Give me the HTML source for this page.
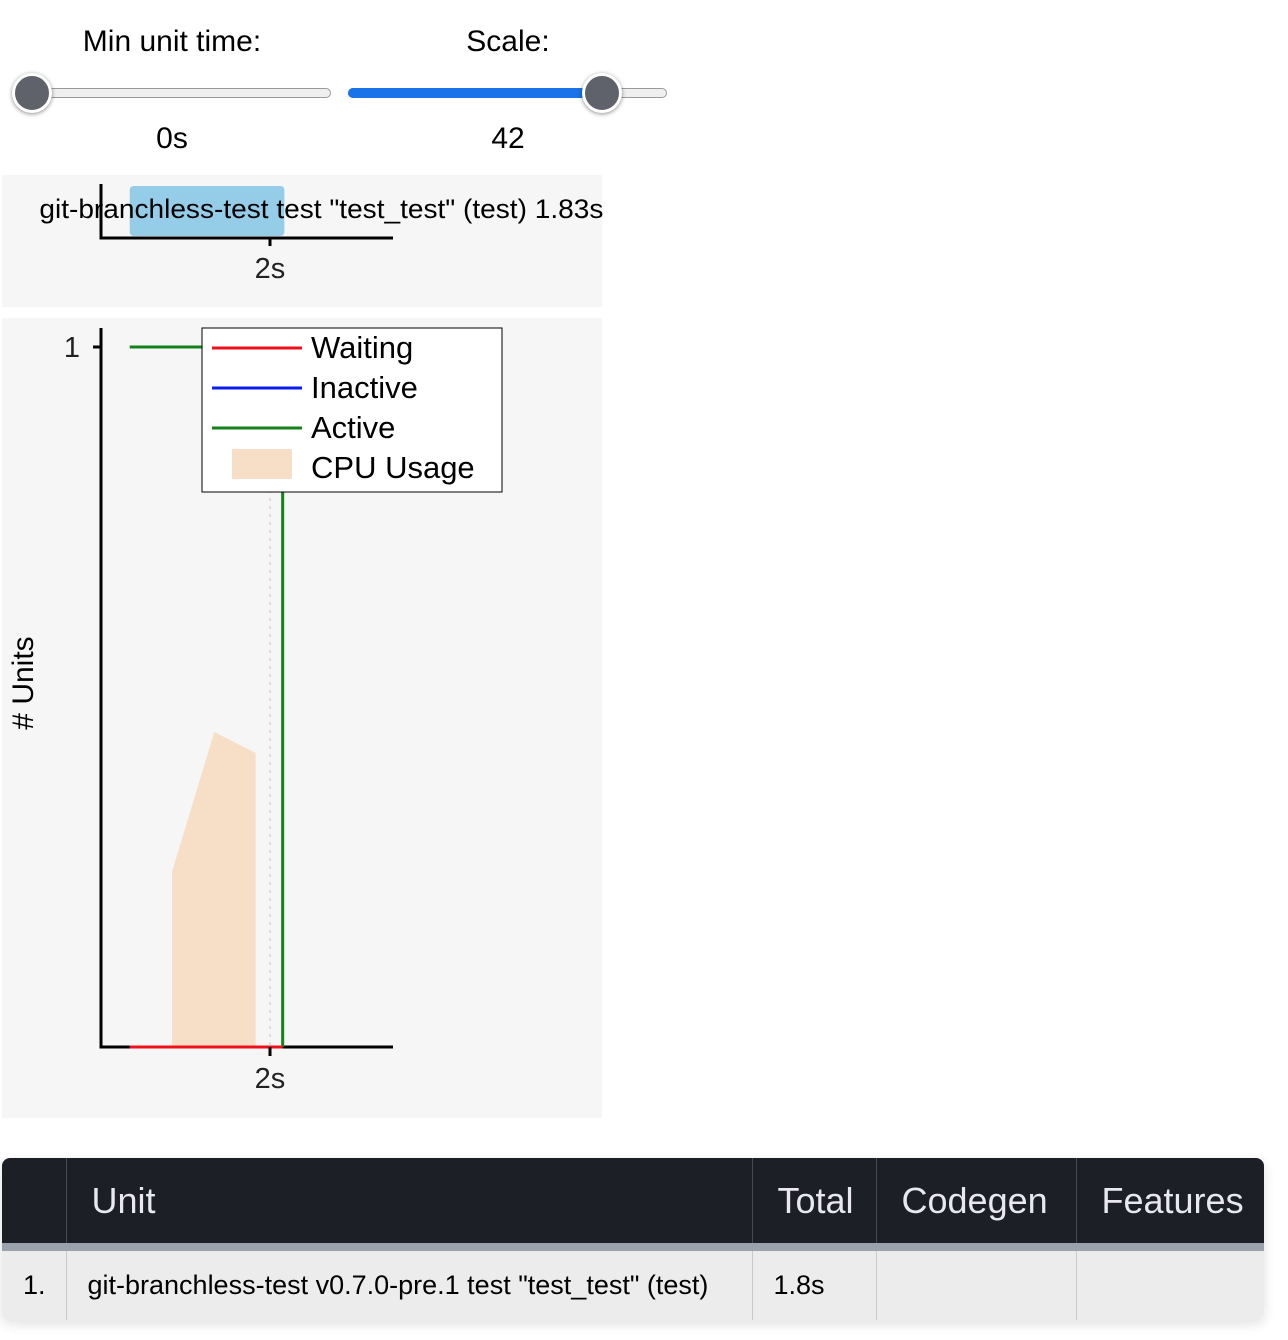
<!DOCTYPE html>
<html><head><meta charset="utf-8"><style>
body{margin:0;width:1288px;height:1340px;background:#fff;font-family:"Liberation Sans",Arial,sans-serif;position:relative;overflow:hidden}
.abs{position:absolute}
.lbl{font-size:30px;color:#000;text-align:center;width:300px}
.track{height:8px;border:1px solid #9a9a9a;border-radius:5px;background:#efefef}
.thumb{width:34px;height:34px;border-radius:50%;background:#5f616b;border:3px solid #fff;box-shadow:0 1px 4px rgba(0,0,0,.45)}
table{border-collapse:collapse;table-layout:fixed;position:absolute;left:2px;top:1158px;width:1262px;border-radius:8px;overflow:hidden;box-shadow:0 4px 12px rgba(0,0,0,.12)}
th{background:#1d1f27;color:#e8e8ee;font-weight:normal;font-size:36px;height:85px;text-align:left;padding:0 0 0 25px;border-left:1px solid #444a58;border-bottom:8px solid #9aa2ae;white-space:nowrap}
td{background:#ececec;font-size:27px;height:69px;padding:0 0 0 21px;border-left:1px solid #c8c8d0;white-space:nowrap}
th:first-child,td:first-child{border-left:none}
</style></head><body>
<div class="abs lbl" style="left:22px;top:25px">Min unit time:</div>
<div class="abs lbl" style="left:358px;top:25px">Scale:</div>
<div class="abs track" style="left:32px;top:88px;width:297px"></div>
<div class="abs thumb" style="left:12px;top:73px"></div>
<div class="abs track" style="left:348px;top:88px;width:317px"></div>
<div class="abs" style="left:348px;top:88px;width:254px;height:10px;background:#1a73e8;border-radius:5px"></div>
<div class="abs thumb" style="left:582px;top:73px"></div>
<div class="abs lbl" style="left:22px;top:122px">0s</div>
<div class="abs lbl" style="left:358px;top:122px">42</div>

<svg class="abs" style="left:0;top:0" width="1288" height="1140">
<rect x="2" y="175" width="600" height="132" fill="#f6f6f6"/>
<rect x="2" y="318" width="600" height="800" fill="#f6f6f6"/>
<g id="pipe"></g>
<g id="conc"></g>
</svg>
<table>
<colgroup><col style="width:64px"><col style="width:686px"><col style="width:124px"><col style="width:200px"><col style="width:188px"></colgroup>
<tr><th></th><th>Unit</th><th>Total</th><th>Codegen</th><th>Features</th></tr>
<tr><td>1.</td><td>git-branchless-test v0.7.0-pre.1 test "test_test" (test)</td><td>1.8s</td><td></td><td></td></tr>
</table>
<script>
const units=['git-branchless-test test "test_test" (test)'];
const unitStart=[0.34];
const unitDur=[1.83];
const xTicks=[2];
const activeT=[0.34,2.15];
const activeV=[1,0];
const waitingT=[0.34,2.15];
const waitingV=[0,0];
const cpuT=[0.84,1.34,1.83];
const cpuV=[25,45,42];
const NS='http://www.w3.org/2000/svg';
const X=t=>101+t*84.5;
function mk(p,tag,a,txt){const e=document.createElementNS(NS,tag);for(const k in a)e.setAttribute(k,a[k]);if(txt!==undefined)e.textContent=txt;p.appendChild(e);return e;}
const pipe=document.getElementById('pipe');
units.forEach((u,i)=>{
 const r=mk(pipe,'rect',{x:X(unitStart[i]),y:186,width:unitDur[i]*84.5,height:50,rx:4,fill:'#95cce8'});
 
 
 const t=mk(pipe,'text',{x:X(unitStart[i]+unitDur[i])+319,y:218,'font-size':27,'text-anchor':'end',textLength:564,lengthAdjust:'spacingAndGlyphs'},u+' '+unitDur[i].toFixed(2)+'s');
 
 
});
mk(pipe,'path',{d:'M101 184V238H393',stroke:'#000','stroke-width':3,fill:'none'});
xTicks.forEach(v=>{mk(pipe,'line',{x1:X(v),x2:X(v),y1:238,y2:246,stroke:'#000','stroke-width':3});
 const t=mk(pipe,'text',{x:X(v),y:278,'font-size':29,'text-anchor':'middle',fill:'#222'},v+'s');
 
 });
const c=document.getElementById('conc');
const Y=v=>1047-v*700, YC=p=>1047-p*7;
xTicks.forEach(v=>mk(c,'line',{x1:X(v),x2:X(v),y1:330,y2:1047,stroke:'#ddd','stroke-width':2,'stroke-dasharray':'3,5'}));
let d='M'+X(cpuT[0])+' 1047';cpuT.forEach((t,i)=>d+='L'+X(t)+' '+YC(cpuV[i]));d+='L'+X(cpuT[cpuT.length-1])+' 1047Z';
const cp=mk(c,'path',{d:d,fill:'#f7dfc7'});


mk(c,'path',{d:'M101 328V1047H393',stroke:'#000','stroke-width':3,fill:'none'});
function step(T,V,col,name){let s='M'+X(T[0])+' '+Y(V[0]);for(let i=1;i<T.length;i++)s+='H'+X(T[i])+'V'+Y(V[i]);
 const p=mk(c,'path',{d:s,stroke:col,'stroke-width':3,fill:'none'});
 
 }
step(activeT,activeV,'#14821a','active-line');
step(waitingT,waitingV,'#f0101c','waiting-line');
mk(c,'line',{x1:93,x2:101,y1:Y(1),y2:Y(1),stroke:'#000','stroke-width':3});
mk(c,'text',{x:80,y:Y(1)+10,'font-size':29,'text-anchor':'end',fill:'#222'},'1');
xTicks.forEach(v=>{mk(c,'line',{x1:X(v),x2:X(v),y1:1047,y2:1056,stroke:'#000','stroke-width':3});
 const t=mk(c,'text',{x:X(v),y:1088,'font-size':29,'text-anchor':'middle',fill:'#222'},v+'s');
 
 });
const yt=mk(c,'text',{x:33,y:683,'font-size':30,'text-anchor':'middle',transform:'rotate(-90 33 683)'},'# Units');


const lg=mk(c,'g',{});


mk(lg,'rect',{x:202,y:328,width:300,height:164,fill:'#fff',stroke:'#000','stroke-width':1});
[['Waiting','#f0101c'],['Inactive','#0b1ef0'],['Active','#14821a']].forEach((e,i)=>{
 mk(lg,'line',{x1:212,x2:302,y1:348+i*40,y2:348+i*40,stroke:e[1],'stroke-width':3});
 mk(lg,'text',{x:311,y:358+i*40,'font-size':31},e[0]);});
mk(lg,'rect',{x:232,y:449,width:60,height:30,fill:'#f7dfc7'});
mk(lg,'text',{x:311,y:478,'font-size':31},'CPU Usage');
</script>
</body></html>
